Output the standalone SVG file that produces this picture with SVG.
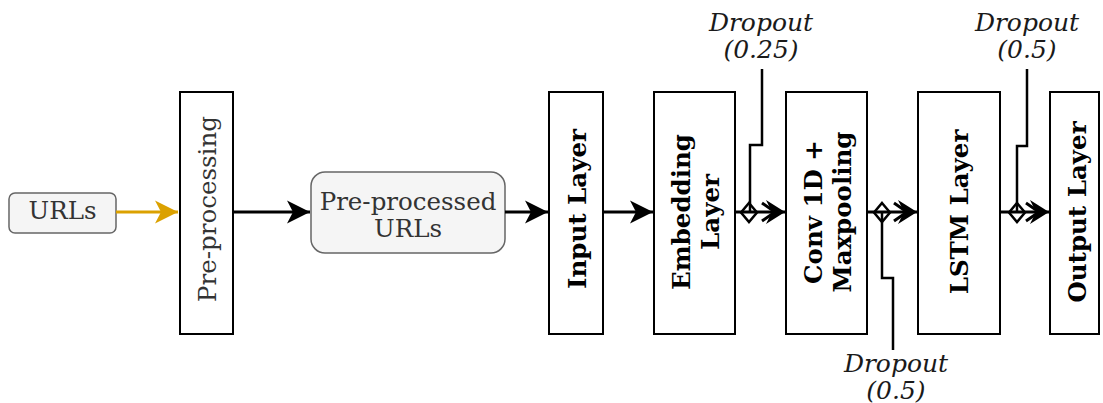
<svg xmlns="http://www.w3.org/2000/svg" width="1103" height="403" viewBox="0 0 1103 403">
  <style>
    .layer { fill: #ffffff; stroke: #000000; stroke-width: 2; }
    .soft { fill: #f5f5f5; stroke: #666666; stroke-width: 1.5; }
    .lbl { font-family: "DejaVu Serif", "Liberation Serif", serif; font-size: 24.5px; text-anchor: middle; }
    .plain { fill: #333333; }
    .bold { font-weight: bold; fill: #000000; font-size: 24.5px; }
    .drop { font-style: italic; fill: #1a1a1a; font-size: 25px; }
    .edge { fill: none; stroke: #000000; stroke-width: 3; }
    .thin { fill: none; stroke: #000000; stroke-width: 2.5; }
    .chev { fill: none; stroke: #000000; stroke-width: 3; stroke-linejoin: miter; }
    .dia { fill: none; stroke: #000000; stroke-width: 2.5; }
  </style>
  <defs>
    <marker id="arrow" markerUnits="userSpaceOnUse" markerWidth="26" markerHeight="26" viewBox="-24 -13 26 26" refX="0" refY="0" orient="auto">
      <path d="M0,0 L-23,-11.5 L-17,0 L-23,11.5 Z" fill="#000000"/>
    </marker>
    <marker id="arrow-orange" markerUnits="userSpaceOnUse" markerWidth="26" markerHeight="26" viewBox="-24 -13 26 26" refX="0" refY="0" orient="auto">
      <path d="M0,0 L-23,-11.5 L-17,0 L-23,11.5 Z" fill="#dba100"/>
    </marker>
    <marker id="arrow-small" markerUnits="userSpaceOnUse" markerWidth="24" markerHeight="28" viewBox="-22 -14 24 28" refX="0" refY="0" orient="auto">
      <path d="M0,0 L-19,-12 L-13,0 L-19,12 Z" fill="#000000"/>
    </marker>
  </defs>

  <!-- source node -->
  <g id="urls">
    <rect class="soft" x="9" y="193" width="107" height="40" rx="6"/>
    <text class="lbl plain" x="62.5" y="219">URLs</text>
  </g>

  <g id="preprocessing">
    <rect class="layer" x="180" y="92" width="53" height="242"/>
    <text class="lbl plain" transform="translate(216,209) rotate(-90)" x="0" y="0">Pre-processing</text>
  </g>

  <g id="preprocessed-urls">
    <rect class="soft" x="311" y="172" width="194" height="81" rx="14"/>
    <text class="lbl plain" x="408" y="210">Pre-processed</text>
    <text class="lbl plain" x="408" y="237">URLs</text>
  </g>

  <g id="input-layer">
    <rect class="layer" x="549" y="92" width="54" height="242"/>
    <text class="lbl bold" transform="translate(586,209) rotate(-90)" x="0" y="0">Input Layer</text>
  </g>

  <g id="embedding-layer">
    <rect class="layer" x="654" y="92" width="81" height="242"/>
    <text class="lbl bold" transform="translate(690,212) rotate(-90)" x="0" y="0">Embedding</text>
    <text class="lbl bold" transform="translate(719,212) rotate(-90)" x="0" y="0">Layer</text>
  </g>

  <g id="conv-maxpooling">
    <rect class="layer" x="786" y="92" width="81" height="242"/>
    <text class="lbl bold" transform="translate(822,212) rotate(-90)" x="0" y="0">Conv 1D +</text>
    <text class="lbl bold" transform="translate(851,212) rotate(-90)" x="0" y="0">Maxpooling</text>
  </g>

  <g id="lstm-layer">
    <rect class="layer" x="918" y="92" width="82" height="242"/>
    <text class="lbl bold" transform="translate(968,212) rotate(-90)" x="0" y="0">LSTM Layer</text>
  </g>

  <g id="output-layer">
    <rect class="layer" x="1050" y="92" width="49" height="242"/>
    <text class="lbl bold" transform="translate(1086,212) rotate(-90)" x="0" y="0">Output Layer</text>
  </g>

  <g id="dropout-labels">
    <text class="lbl drop" x="761" y="31">Dropout</text>
    <text class="lbl drop" x="761" y="58">(0.25)</text>
    <text class="lbl drop" x="896" y="372">Dropout</text>
    <text class="lbl drop" x="896" y="399">(0.5)</text>
    <text class="lbl drop" x="1027" y="31">Dropout</text>
    <text class="lbl drop" x="1027" y="58">(0.5)</text>
  </g>

  <g id="connectors">
    <line x1="116" y1="212" x2="178" y2="212" stroke="#dba100" stroke-width="3" marker-end="url(#arrow-orange)"/>
    <line class="edge" x1="233" y1="212" x2="310" y2="212" marker-end="url(#arrow)"/>
    <line class="edge" x1="505" y1="212" x2="548" y2="212" marker-end="url(#arrow)"/>
    <line class="edge" x1="603" y1="212" x2="653" y2="212" marker-end="url(#arrow)"/>

    <!-- embedding to conv, with dropout joining -->
    <line class="edge" x1="735" y1="212" x2="785" y2="212" marker-end="url(#arrow-small)"/>
    <polyline class="chev" points="762,203 775,212 762,221"/>
    <path class="thin" d="M762,69 V145 H750 V212"/>
    <path class="dia" d="M749,203 L757,212.5 L749,222 L741,212.5 Z"/>

    <!-- conv to lstm, with dropout joining -->
    <line class="edge" x1="867" y1="212" x2="917" y2="212" marker-end="url(#arrow-small)"/>
    <polyline class="chev" points="894,203 907,212 894,221"/>
    <path class="thin" d="M882,212 V278 H893 V350"/>
    <path class="dia" d="M882,203 L890,212.5 L882,222 L874,212.5 Z"/>

    <!-- lstm to output, with dropout joining -->
    <line class="edge" x1="1000" y1="212" x2="1049" y2="212" marker-end="url(#arrow-small)"/>
    <polyline class="chev" points="1026,203 1039,212 1026,221"/>
    <path class="thin" d="M1027,69 V146 H1017 V212"/>
    <path class="dia" d="M1017,203 L1025,212.5 L1017,222 L1009,212.5 Z"/>
  </g>
</svg>
